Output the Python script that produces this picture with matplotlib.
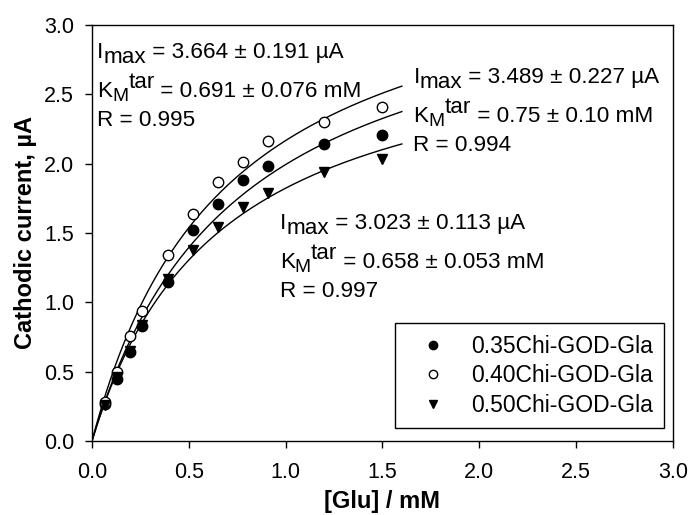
import numpy as np
import matplotlib
matplotlib.use("Agg")
import matplotlib.pyplot as plt
import matplotlib.transforms as mtransforms

plt.rcParams['font.family'] = ['Liberation Sans', 'DejaVu Sans']

# --- Data ---
glu = [0.065, 0.13, 0.195, 0.26, 0.39, 0.52, 0.65, 0.78, 0.91, 1.2, 1.5]
cur_035 = [0.27, 0.45, 0.64, 0.83, 1.15, 1.52, 1.71, 1.88, 1.98, 2.14, 2.21]
cur_040 = [0.28, 0.50, 0.76, 0.94, 1.34, 1.64, 1.87, 2.01, 2.16, 2.30, 2.41]
cur_050 = [0.26, 0.46, 0.65, 0.84, 1.17, 1.38, 1.54, 1.69, 1.79, 1.94, 2.03]
labels = ['0.35Chi-GOD-Gla', '0.40Chi-GOD-Gla', '0.50Chi-GOD-Gla']

# Michaelis-Menten fit parameters (Imax, KM) shown on the chart
imax = [3.489, 3.664, 3.023]
km = [0.75, 0.691, 0.658]
imax_txt = ['3.489 ± 0.227', '3.664 ± 0.191', '3.023 ± 0.113']
km_txt = ['0.75 ± 0.10', '0.691 ± 0.076', '0.658 ± 0.053']
r_vals = ['0.994', '0.995', '0.997']

fig = plt.figure(figsize=(6.89, 5.15), dpi=100)
ax = fig.add_axes([0.1335, 0.1437, 0.8433, 0.8078])

markers = [dict(marker='o', mfc='black', mec='black', ms=7.5),
           dict(marker='o', mfc='white', mec='black', ms=7.5, mew=1.0),
           dict(marker='v', mfc='black', mec='black', ms=7.5)]

# fitted curves
xf = np.linspace(0, 1.6, 200)
for a, k in zip(imax, km):
    ax.plot(xf, a * xf / (k + xf), color='black', lw=1.0, zorder=2)

for y, lab, m in zip([cur_035, cur_040, cur_050], labels, markers):
    ax.plot(glu, y, ls='none', label=lab, zorder=3, **m)

ax.set_xlim(0, 3.0)
ax.set_ylim(0, 3.0)
ax.set_xticks(np.arange(0, 3.01, 0.5))
ax.set_yticks(np.arange(0, 3.01, 0.5))
ax.tick_params(direction='out', length=5, width=1, labelsize=15.5, top=False, right=False)
ax.tick_params(axis='y', pad=8)
ax.tick_params(axis='x', pad=10)
for s in ax.spines.values():
    s.set_linewidth(1.0)

ax.set_xlabel('[Glu] / mM', fontsize=17, fontweight='bold', labelpad=5)
ax.set_ylabel('Cathodic current, µA', fontsize=17, fontweight='bold', labelpad=5)

leg = ax.legend(loc='lower right', fontsize=16.5, frameon=True, fancybox=False,
                edgecolor='black', framealpha=1, markerscale=0.8,
                handlelength=2.3, handletextpad=0.5, borderpad=0.5,
                labelspacing=0.28, borderaxespad=0, bbox_to_anchor=(0.985, 0.031))
leg.get_frame().set_linewidth(1.0)

# annotations with full-size sub/superscripts
fs = 16.2
fig.canvas.draw()
renderer = fig.canvas.get_renderer()


def rich_text(x, y, parts):
    dx = 0.0
    for s, dy, scale in parts:
        tr = mtransforms.offset_copy(ax.transData, fig=fig, x=dx, y=dy, units='points')
        t = ax.text(x, y, s, transform=tr, fontsize=fs * scale, va='baseline', ha='left')
        dx += t.get_window_extent(renderer).width * 72.0 / fig.dpi


blocks = [(0.026, [2.76, 2.48, 2.27], 1),
          (1.66, [2.58, 2.30, 2.09], 0),
          (0.97, [1.528, 1.247, 1.038], 2)]
for x0, ys, i in blocks:
    rich_text(x0, ys[0], [('I', 0, 1), ('max', -3.5, 1), (f' = {imax_txt[i]} µA', 0, 1)])
    rich_text(x0, ys[1], [('K', 0, 1), ('M', -2.5, 0.85), ('tar', 6.5, 1),
                          (f' = {km_txt[i]} mM', 0, 1)])
    rich_text(x0, ys[2], [(f'R = {r_vals[i]}', 0, 1)])

fig.savefig('out.png', dpi=100)
